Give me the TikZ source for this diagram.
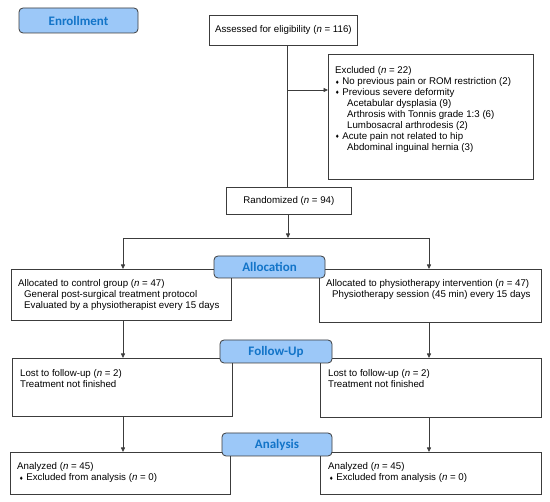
\documentclass[tikz,border=0pt]{standalone}
\usepackage{fontspec}
\setmainfont{Liberation Sans}
\newfontfamily\stagefont{Carlito}
\newfontfamily\symfont{DejaVu Sans}
\usetikzlibrary{arrows.meta}
\definecolor{stagefill}{RGB}{156,200,248}
\definecolor{stagetext}{RGB}{18,116,200}
\definecolor{linegray}{RGB}{60,60,60}
\newcommand{\dia}{{\symfont\fontsize{5}{5}\selectfont\raisebox{0.6pt}{♦}}}

\begin{document}
\begin{tikzpicture}[
		x=1pt, y=-1pt,
		box/.style		={ draw=linegray, line width=0.8pt,
			anchor=north west, inner sep=0pt,
		},
		txt/.style		={ anchor=north west, align=left, inner sep=0pt,
			font=\fontsize{9.7}{10.9}\selectfont,
		},
		ctxt/.style		={ box, align=center,
			font=\fontsize{9.7}{10.9}\selectfont,
		},
		stage/.style	={ draw=linegray, fill=stagefill, line width=0.8pt,
			rounded corners=4pt, text=stagetext, inner sep=0pt,
			font=\stagefont\bfseries\fontsize{13}{13}\selectfont,
		},
		link/.style		={ draw=linegray, line width=0.8pt },
		arr/.style		={ link, -{Triangle[length=4.5pt,width=4pt]} },
	]
	\useasboundingbox (0,0) rectangle (550,502);

	% enrollment part
	\node (assess) [ctxt, minimum width=148pt, minimum height=30pt] at (209,15)
			{Assessed for eligibility (\textit{n} = 116)};
	\node (excl) [box, minimum width=205pt, minimum height=125pt] at (328,54) {};
	\node (excltx) [txt] at (335,66.5) {Excluded (\textit{n} = 22)\\
			\dia\ No previous pain or ROM restriction (2)\\
			\dia\ Previous severe deformity\\
			\hspace*{12pt}Acetabular dysplasia (9)\\
			\hspace*{12pt}Arthrosis with Tonnis grade 1:3 (6)\\
			\hspace*{12pt}Lumbosacral arthrodesis (2)\\
			\dia\ Acute pain not related to hip\\
			\hspace*{12pt}Abdominal inguinal hernia (3)};
	\node (rand) [ctxt, minimum width=125pt, minimum height=27pt] at (226,187)
			{Randomized (\textit{n} = 94)};

	% allocation part
	\node (ctrl) [box, minimum width=220pt, minimum height=51pt] at (11,269) {};
	\node (ctrltx) [txt] at (18,279.5) {Allocated to control group (\textit{n} = 47)\\
			\hspace*{6pt}General post-surgical treatment protocol\\
			\hspace*{6pt}Evaluated by a physiotherapist every 15 days};
	\node (phys) [box, minimum width=222pt, minimum height=53pt] at (319,269) {};
	\node (phystx) [txt] at (326,279.5) {Allocated to physiotherapy intervention (\textit{n} = 47)\\
			\hspace*{6pt}Physiotherapy session (45 min) every 15 days};

	% follow-up part
	\node (lostC) [box, minimum width=220pt, minimum height=58pt] at (12,358) {};
	\node (lostCtx) [txt] at (20,369.5) {Lost to follow-up (\textit{n} = 2)\\
			Treatment not finished};
	\node (lostP) [box, minimum width=221pt, minimum height=59pt] at (320,358) {};
	\node (lostPtx) [txt] at (328,369.5) {Lost to follow-up (\textit{n} = 2)\\
			Treatment not finished};

	% analysis part
	\node (anaC) [box, minimum width=220pt, minimum height=42pt] at (10,452) {};
	\node (anaCtx) [txt] at (17,462.5) {Analyzed (\textit{n} = 45)\\
			\hspace*{2pt}\dia\ Excluded from analysis (\textit{n} = 0)};
	\node (anaP) [box, minimum width=221pt, minimum height=42pt] at (320,452) {};
	\node (anaPtx) [txt] at (328,462.5) {Analyzed (\textit{n} = 45)\\
			\hspace*{1pt}\dia\ Excluded from analysis (\textit{n} = 0)};

	% connectors
	\coordinate (spine) at (287,90);
	\coordinate (fork) at (288,238);
	\draw [link] (assess.south -| spine) -- (spine |- rand.north);
	\draw [arr] (spine) -- (spine -| excl.west);
	\draw [arr] (rand.south -| fork) -- (fork);
	\draw [link] (fork -| 123,0) -- (fork -| 429,0);
	\draw [arr] (123,238) -- (ctrl.north -| 123,0);
	\draw [arr] (429,238) -- (phys.north -| 429,0);
	\draw [arr] (ctrl.south -| 123,0) -- (lostC.north -| 123,0);
	\draw [arr] (phys.south -| 429,0) -- (lostP.north -| 429,0);
	\draw [arr] (lostC.south -| 123,0) -- (anaC.north -| 123,0);
	\draw [arr] (lostP.south -| 429,0) -- (anaP.north -| 429,0);

	% stage labels
	\node (enrol) [stage, minimum width=119pt, minimum height=25pt] at (78.5,20.5) {Enrollment};
	\node (alloc) [stage, minimum width=111pt, minimum height=22pt] at (269.5,267) {Allocation};
	\node (follow) [stage, minimum width=112pt, minimum height=23pt] at (276,351.5) {Follow-Up};
	\node (anal) [stage, minimum width=110pt, minimum height=23pt] at (277,444.5) {Analysis};
\end{tikzpicture}
\end{document}
